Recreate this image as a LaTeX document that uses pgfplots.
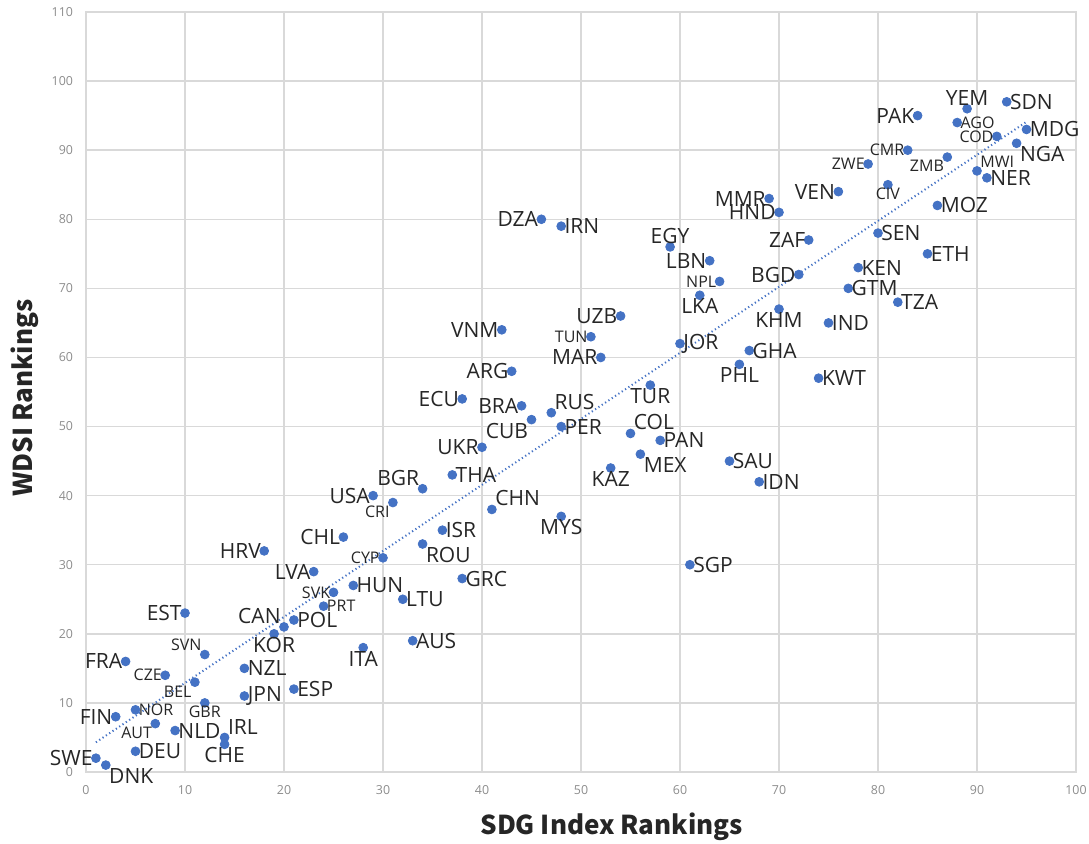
\documentclass[border=0pt]{standalone}
\usepackage{pgfplots}
\pgfplotsset{compat=1.18}
\usepackage{fontspec}
\setmainfont{Open Sans}
\newfontfamily\cjk{Noto Sans CJK SC}
\definecolor{dotblue}{HTML}{4472C4}
\definecolor{gridgray}{HTML}{D9D9D9}
\definecolor{tickgray}{HTML}{8C8C8C}
\definecolor{labtext}{HTML}{262626}

\begin{document}
\begin{tikzpicture}
\begin{axis}[
  scale only axis, width=495pt, height=380pt,
  xmin=0, xmax=100, ymin=0, ymax=110,
  xtick distance=10, ytick distance=10,
  grid=major, grid style={gridgray, line width=0.75pt},
  axis line style={gridgray, line width=0.75pt},
  major tick length=0pt,
  tick label style={font=\fontsize{6.2}{7}\selectfont, text=tickgray},
  xticklabel style={yshift=-3pt},
  yticklabel style={xshift=-3pt},
  /pgf/number format/assume math mode=true,
  every axis x label/.style={at={([yshift=-27.5pt]axis description cs:0.531,0)}, anchor=center},
  every axis y label/.style={at={([xshift=-30.5pt]axis description cs:0,0.492)}, rotate=90, anchor=center},
  xlabel={\cjk\bfseries\fontsize{13}{15}\selectfont SDG Index Rankings},
  ylabel={\cjk\bfseries\fontsize{13}{15}\selectfont WDSI Rankings},
  label style={text=labtext},
  clip=false,
]
\coordinate (sw) at (rel axis cs:0,0);
\coordinate (ne) at (rel axis cs:1,1);

% linear trend line
\addplot[dotblue, line width=1pt, dash pattern=on 0.6pt off 1.4pt] coordinates {(1,4.3) (95,94.1)};

% countries with the larger labels: SDG rank, WDSI rank, code, label anchor
\addplot[only marks, mark=*, mark size=2.2pt, mark options={draw=dotblue, fill=dotblue},
  nodes near coords, point meta=explicit symbolic,
  visualization depends on={value \thisrow{anc}\as\myanchor},
  every node near coord/.append style={anchor=\myanchor, inner sep=1.5pt, text=labtext, font=\fontsize{10.5}{12}\selectfont},
] table[meta=lab] {
x y lab anc
1 2 SWE east
2 1 DNK {north west}
3 8 FIN east
4 16 FRA east
5 3 DEU west
9 6 NLD west
10 23 EST east
14 5 IRL {south west}
14 4 CHE north
16 15 NZL west
16 11 JPN west
18 32 HRV east
19 20 KOR north
20 21 CAN {south east}
21 22 POL west
21 12 ESP west
23 29 LVA east
26 34 CHL east
27 27 HUN west
28 18 ITA north
29 40 USA east
32 25 LTU west
33 19 AUS west
34 41 BGR {south east}
34 33 ROU {north west}
36 35 ISR west
37 43 THA west
38 28 GRC west
38 54 ECU east
40 47 UKR east
41 38 CHN {south west}
42 64 VNM east
43 58 ARG east
44 53 BRA east
45 51 CUB {north east}
46 80 DZA east
47 52 RUS {south west}
48 79 IRN west
48 50 PER west
48 37 MYS north
52 60 MAR east
53 44 KAZ north
54 66 UZB east
55 49 COL {south west}
56 46 MEX {north west}
57 56 TUR north
58 48 PAN west
59 76 EGY south
60 62 JOR west
61 30 SGP west
62 69 LKA north
63 74 LBN east
65 45 SAU west
66 59 PHL north
67 61 GHA west
68 42 IDN west
69 83 MMR east
70 81 HND east
70 67 KHM north
72 72 BGD east
73 77 ZAF east
74 57 KWT west
75 65 IND west
76 84 VEN east
77 70 GTM west
78 73 KEN west
80 78 SEN west
82 68 TZA west
84 95 PAK east
85 75 ETH west
86 82 MOZ west
89 96 YEM south
91 86 NER west
93 97 SDN west
94 91 NGA {north west}
95 93 MDG west
};

% countries with the smaller labels
\addplot[only marks, mark=*, mark size=2.2pt, mark options={draw=dotblue, fill=dotblue},
  nodes near coords, point meta=explicit symbolic,
  visualization depends on={value \thisrow{anc}\as\myanchor},
  every node near coord/.append style={anchor=\myanchor, inner sep=1.5pt, text=labtext, font=\fontsize{8}{10}\selectfont},
] table[meta=lab] {
x y lab anc
5 9 NOR west
7 7 AUT {north east}
8 14 CZE east
11 13 BEL {north east}
12 17 SVN {south east}
12 10 GBR north
24 24 PRT west
25 26 SVK east
30 31 CYP east
31 39 CRI {north east}
51 63 TUN east
64 71 NPL east
79 88 ZWE east
81 85 CIV north
83 90 CMR east
87 89 ZMB {north east}
88 94 AGO west
90 87 MWI {south west}
92 92 COD east
};
\end{axis}
\pgfresetboundingbox
\path ([shift={(-43pt,-35.5pt)}]sw) rectangle ([shift={(6.5pt,6pt)}]ne);
\end{tikzpicture}
\end{document}
